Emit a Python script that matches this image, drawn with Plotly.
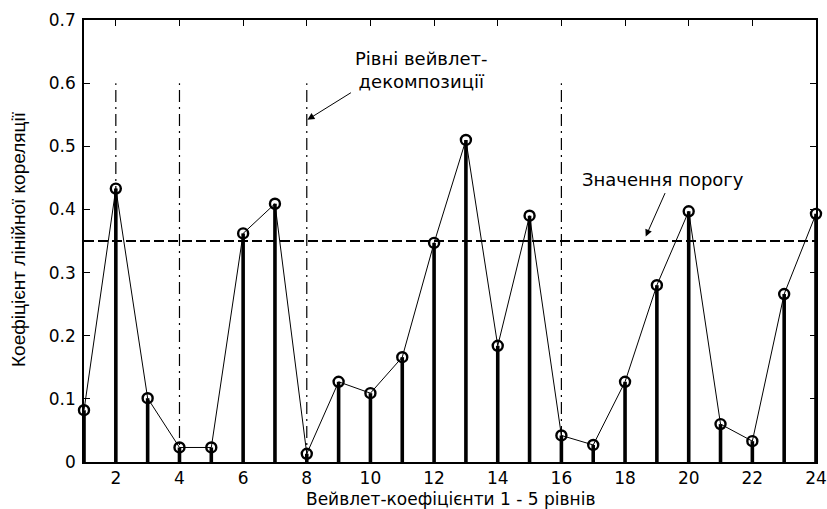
import plotly.graph_objects as go

x_idx = list(range(1, 25))
corr = [0.082, 0.433, 0.101, 0.023, 0.023, 0.362, 0.409, 0.013,
        0.127, 0.109, 0.166, 0.347, 0.510, 0.184, 0.390, 0.042,
        0.027, 0.127, 0.280, 0.397, 0.060, 0.033, 0.266, 0.393]
threshold = 0.35
level_x = [2, 4, 8, 16]
level_top = 0.6
x_ticks = list(range(2, 25, 2))
y_ticks = [0, 0.1, 0.2, 0.3, 0.4, 0.5, 0.6, 0.7]
y_tick_text = ["0", "0.1", "0.2", "0.3", "0.4", "0.5", "0.6", "0.7"]
x_title = "Вейвлет-коефіцієнти 1 - 5 рівнів"
y_title = "Коефіцієнт лінійної кореляції"

FONT = "DejaVu Sans, Arial, sans-serif"
FONT_Y = "Liberation Sans, Arial, sans-serif"

W, H = 827, 509
ML, MR, MT, MB = 84, 11, 20, 47
PW, PH = W - ML - MR, H - MT - MB

stem_x, stem_y = [], []
for xi, v in zip(x_idx, corr):
    stem_x += [xi, xi, None]
    stem_y += [0, v, None]

fig = go.Figure()
# level lines (dash-dot)
lx, ly = [], []
for xv in level_x:
    lx += [xv, xv, None]
    ly += [0, level_top, None]
fig.add_trace(go.Scatter(x=lx, y=ly, mode="lines",
                         line=dict(color="black", width=1.2, dash="12px,5px,2px,5px"),
                         hoverinfo="skip", showlegend=False))
# threshold
fig.add_trace(go.Scatter(x=[x_idx[0], x_idx[-1]], y=[threshold, threshold], mode="lines",
                         line=dict(color="black", width=2, dash="10px,4px"),
                         hoverinfo="skip", showlegend=False))
# stems
fig.add_trace(go.Scatter(x=stem_x, y=stem_y, mode="lines",
                         line=dict(color="black", width=3.6),
                         hoverinfo="skip", showlegend=False))
# connecting line + markers
fig.add_trace(go.Scatter(x=x_idx, y=corr, mode="lines+markers",
                         line=dict(color="black", width=1),
                         marker=dict(symbol="circle-open", size=10, color="black",
                                     line=dict(width=2.4, color="black")),
                         cliponaxis=False, showlegend=False))

fig.add_annotation(text="Рівні вейвлет-<br>декомпозиції", x=11.6, y=0.621, xref="x", yref="y",
                   showarrow=False, font=dict(family=FONT, size=18, color="black"),
                   xanchor="center", yanchor="middle", align="center")
fig.add_annotation(x=8.02, y=0.542, xref="x", yref="y", ax=45, ay=-28,
                   showarrow=True, arrowhead=2, arrowsize=1.4, arrowwidth=1, arrowcolor="black", text="")
fig.add_annotation(text="Значення порогу", x=19.19, y=0.447, xref="x", yref="y",
                   showarrow=False, font=dict(family=FONT, size=18, color="black"),
                   xanchor="center", yanchor="middle")
fig.add_annotation(x=18.65, y=0.357, xref="x", yref="y", ax=20, ay=-45,
                   showarrow=True, arrowhead=2, arrowsize=1.4, arrowwidth=1, arrowcolor="black", text="")

# axis titles
fig.add_annotation(text=x_title, xref="paper", yref="paper", x=0.5, y=(462 - 499) / PH,
                   showarrow=False, xanchor="center", yanchor="middle",
                   font=dict(family=FONT, size=17, color="black"))
fig.add_annotation(text=y_title, xref="paper", yref="paper", x=(18 - ML) / PW, y=(462 - 239) / PH,
                   showarrow=False, xanchor="center", yanchor="middle", textangle=-90,
                   font=dict(family=FONT_Y, size=19, color="black"))

fig.update_layout(
    width=W, height=H,
    margin=dict(l=ML, r=MR, t=MT, b=MB, autoexpand=False),
    paper_bgcolor="white", plot_bgcolor="white",
    font=dict(family=FONT, size=16, color="black"),
    showlegend=False,
)
fig.update_xaxes(range=[1, 24], tickvals=x_ticks, ticks="inside", ticklen=6, tickcolor="black",
                 showline=True, linecolor="black", linewidth=1.5, mirror="ticks",
                 showgrid=False, zeroline=False, automargin=False, ticklabeloverflow="allow",
                 tickfont=dict(family=FONT, size=17))
fig.update_yaxes(range=[0, 0.7], tickvals=y_ticks, ticktext=y_tick_text, ticks="inside", ticklen=6,
                 tickcolor="black", showline=True, linecolor="black", linewidth=1.5, mirror="ticks",
                 showgrid=False, zeroline=False, automargin=False, ticklabeloverflow="allow",
                 ticklabelstandoff=3, tickfont=dict(family=FONT, size=17))

fig.write_html("out.html", config={"displayModeBar": False},
               post_script="document.body.style.margin='0';document.body.style.overflow='hidden';")
